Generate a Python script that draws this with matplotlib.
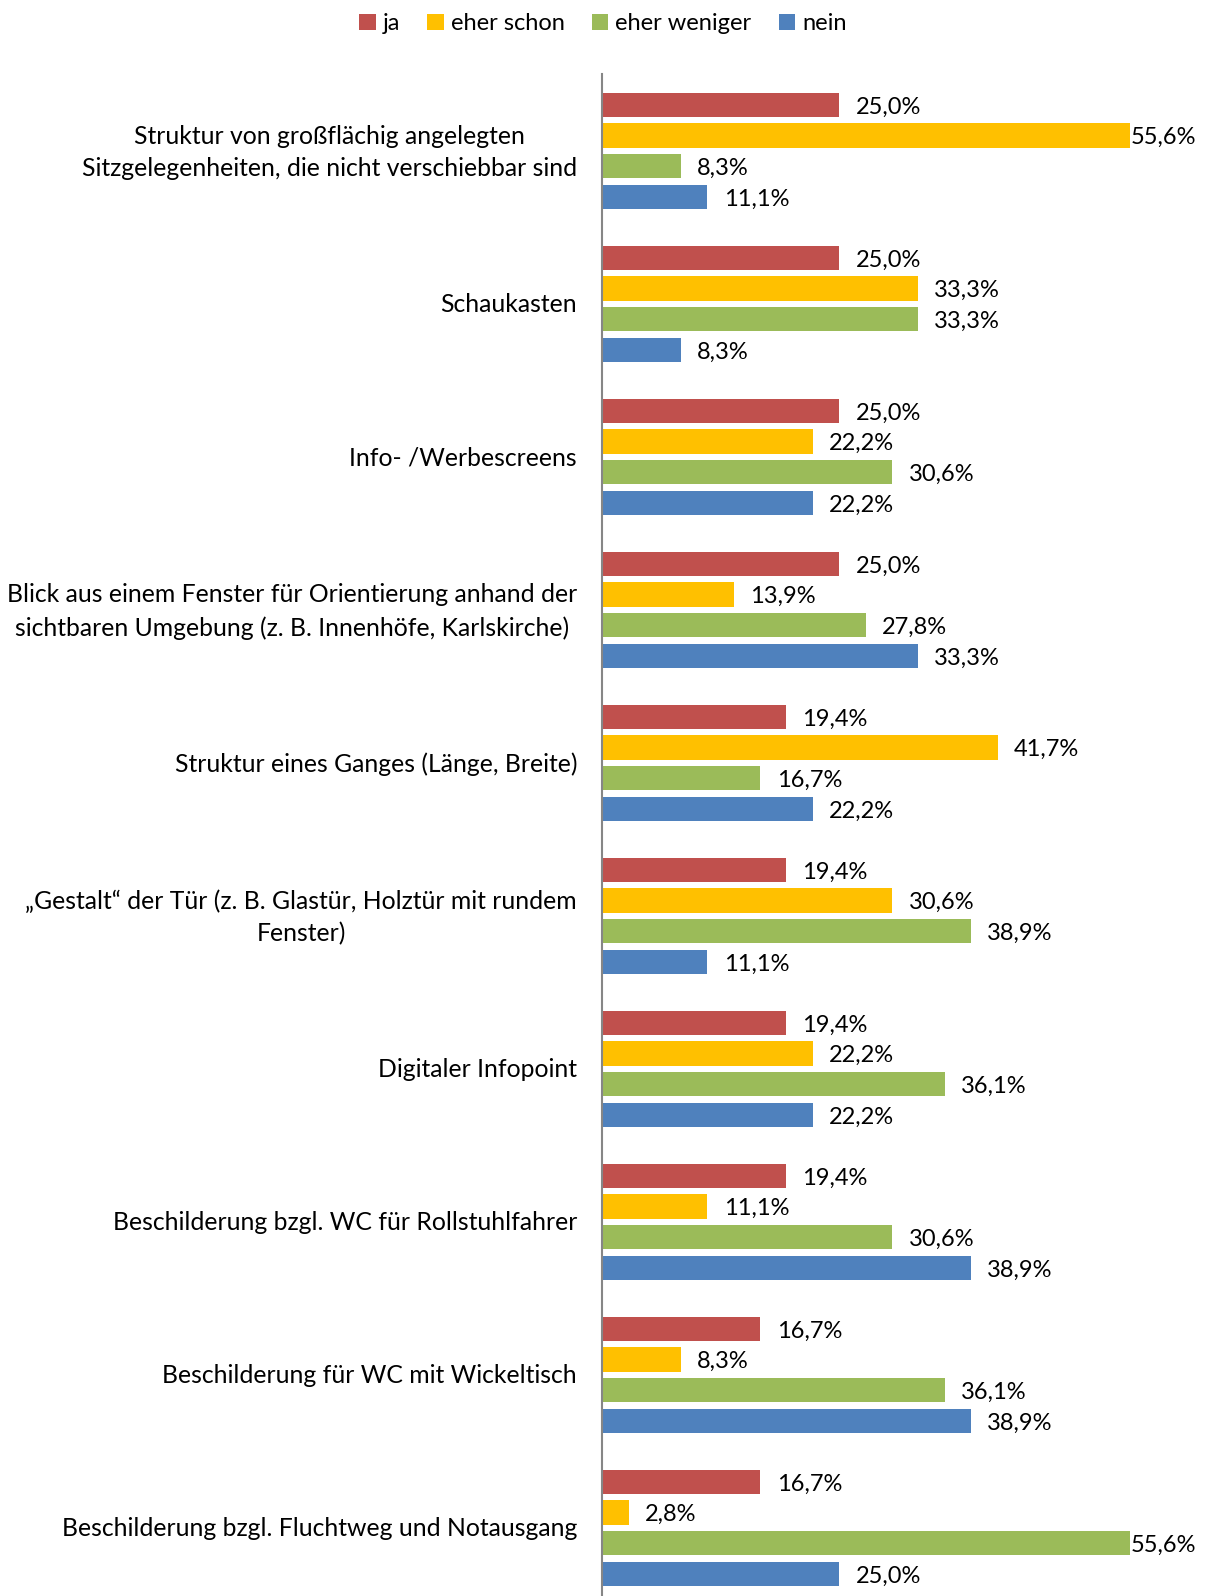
import numpy as np
import matplotlib.pyplot as plt
from matplotlib.transforms import ScaledTranslation

plt.rcParams['font.family'] = ['Lato', 'DejaVu Sans']

categories = [
    "Struktur von großflächig angelegten\nSitzgelegenheiten, die nicht verschiebbar sind",
    "Schaukasten",
    "Info- /Werbescreens",
    "Blick aus einem Fenster für Orientierung anhand der\nsichtbaren Umgebung (z. B. Innenhöfe, Karlskirche)",
    "Struktur eines Ganges (Länge, Breite)",
    "„Gestalt“ der Tür (z. B. Glastür, Holztür mit rundem\nFenster)",
    "Digitaler Infopoint",
    "Beschilderung bzgl. WC für Rollstuhlfahrer",
    "Beschilderung für WC mit Wickeltisch",
    "Beschilderung bzgl. Fluchtweg und Notausgang",
]
ja = [25.0, 25.0, 25.0, 25.0, 19.4, 19.4, 19.4, 19.4, 16.7, 16.7]
eher_schon = [55.6, 33.3, 22.2, 13.9, 41.7, 30.6, 22.2, 11.1, 8.3, 2.8]
eher_weniger = [8.3, 33.3, 30.6, 27.8, 16.7, 38.9, 36.1, 30.6, 36.1, 55.6]
nein = [11.1, 8.3, 22.2, 33.3, 22.2, 11.1, 22.2, 38.9, 38.9, 25.0]

series = [("ja", ja, "#C0504D"),
          ("eher schon", eher_schon, "#FFC000"),
          ("eher weniger", eher_weniger, "#9BBB59"),
          ("nein", nein, "#4F81BD")]

fs = 17
fig = plt.figure(figsize=(12.06, 15.96), dpi=100)
ax = fig.add_axes([0.4992, -0.0053, 0.472, 0.9587])

y = np.arange(len(categories))
offsets = [-0.3, -0.1, 0.1, 0.3]
for (name, vals, col), off in zip(series, offsets):
    bars = ax.barh(y + off, vals, height=0.16, color=col, label=name)
    for b, v in zip(bars, vals):
        dx = 1 if v > 50 else 11.7
        ax.annotate(f"{v:.1f}%".replace(".", ","),
                    (b.get_width(), b.get_y() + b.get_height() / 2),
                    xytext=(dx, -1.5), textcoords="offset points",
                    ha="left", va="center", fontsize=fs, color="black",
                    annotation_clip=False)

ax.set_xlim(0, 60)
ax.set_ylim(len(categories) - 0.5, -0.5)
ax.set_yticks([])
ax.set_xticks([])

# category labels, right aligned next to the axis line
for yi, cat in zip(y, categories):
    dy = -1.1 if "\n" in cat else -0.7
    tr = ax.get_yaxis_transform() + ScaledTranslation(-18 / 72, dy / 72, fig.dpi_scale_trans)
    ax.text(0, yi, cat, transform=tr, ha="right", va="center",
            multialignment="center", linespacing=1.5, fontsize=17.8)

for s in ["top", "right", "bottom"]:
    ax.spines[s].set_visible(False)
ax.spines["left"].set_color("#868686")
ax.spines["left"].set_linewidth(1.5)

fig.legend(loc="upper center", bbox_to_anchor=(0.5, 1.005), ncol=4,
           frameon=False, fontsize=fs, handlelength=0.7, handleheight=0.7,
           handletextpad=0.3, columnspacing=1.15)

fig.savefig("out.png", dpi=100)
